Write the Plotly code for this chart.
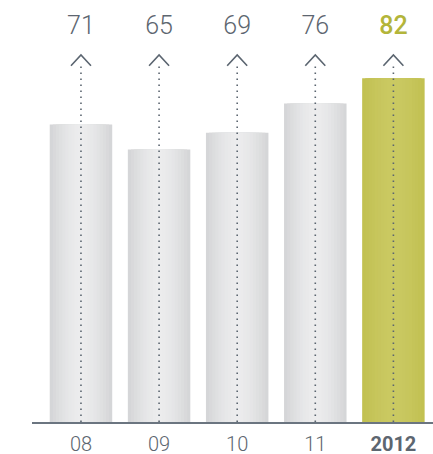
import plotly.graph_objects as go

categories = ["08", "09", "10", "11", "2012"]
values = [71, 65, 69, 76, 82]
highlight = "2012"

W, H = 433, 454
BAR_W = 0.8
N_LAYERS = 10

GRAY_EDGE = (211, 212, 214)
GRAY_MID = (236, 236, 237)
OLIVE_EDGE = (193, 192, 80)
OLIVE_MID = (202, 201, 98)
INK = "#5b6570"


def lerp(a, b, t):
    return "rgb(%d,%d,%d)" % tuple(round(a[i] + (b[i] - a[i]) * t) for i in range(3))


xs = list(range(len(categories)))
fig = go.Figure()

# gradient bars: stacked overlay layers, narrowing toward the centre
for k in range(N_LAYERS):
    frac = 1 - k / N_LAYERS
    r = 1 - (k + 0.5) / N_LAYERS
    t = 1 - r ** 1.6
    colors = [lerp(OLIVE_EDGE, OLIVE_MID, t) if c == highlight else lerp(GRAY_EDGE, GRAY_MID, t)
              for c in categories]
    fig.add_trace(go.Bar(
        x=xs, y=values, width=BAR_W * frac,
        marker=dict(color=colors, line=dict(width=0)),
        hoverinfo="skip", showlegend=False,
    ))

# dotted arrow shafts and chevrons
SHAFT_TOP = 85.9
APEX = 87.6
ARM = 85.0
ARM_DX = 0.128
for x in xs:
    fig.add_trace(go.Scatter(
        x=[x, x], y=[0, SHAFT_TOP], mode="lines",
        line=dict(color=INK, width=1.6, dash="1.6px,4.4px"),
        hoverinfo="skip", showlegend=False,
    ))
    fig.add_trace(go.Scatter(
        x=[x - ARM_DX, x, x + ARM_DX], y=[ARM, APEX, ARM], mode="lines",
        line=dict(color=INK, width=1.6),
        hoverinfo="skip", showlegend=False,
    ))

# value labels
label_colors = ["#b3b53a" if c == highlight else "#5d6670" for c in categories]
fig.add_trace(go.Scatter(
    x=xs, y=[94.0] * len(xs), mode="text",
    text=[str(v) for v in values],
    textfont=dict(family="Roboto", size=25, color=label_colors,
                  weight=[500 if c == highlight else 300 for c in categories]),
    hoverinfo="skip", showlegend=False,
))

ticktext = ["<b>%s</b>" % c if c == highlight else c for c in categories]

fig.update_layout(
    width=W, height=H,
    margin=dict(l=32, r=0, t=0, b=32),
    paper_bgcolor="white", plot_bgcolor="white",
    barmode="overlay",
    xaxis=dict(
        range=[-0.627, 4.507], tickmode="array", tickvals=xs, ticktext=ticktext,
        showgrid=False, zeroline=False, showline=True, linecolor="#6b7580", linewidth=1.5,
        ticks="", ticklabelstandoff=3, automargin=False,
        tickfont=dict(family="Roboto", size=20, color="#5d6670", weight=300),
    ),
    yaxis=dict(range=[0, 100.7], visible=False, fixedrange=True, automargin=False),
)

fig.write_html(
    "out.html",
    config={"displayModeBar": False, "staticPlot": True},
    post_script="document.body.style.margin='0px';document.body.style.overflow='hidden';",
)
